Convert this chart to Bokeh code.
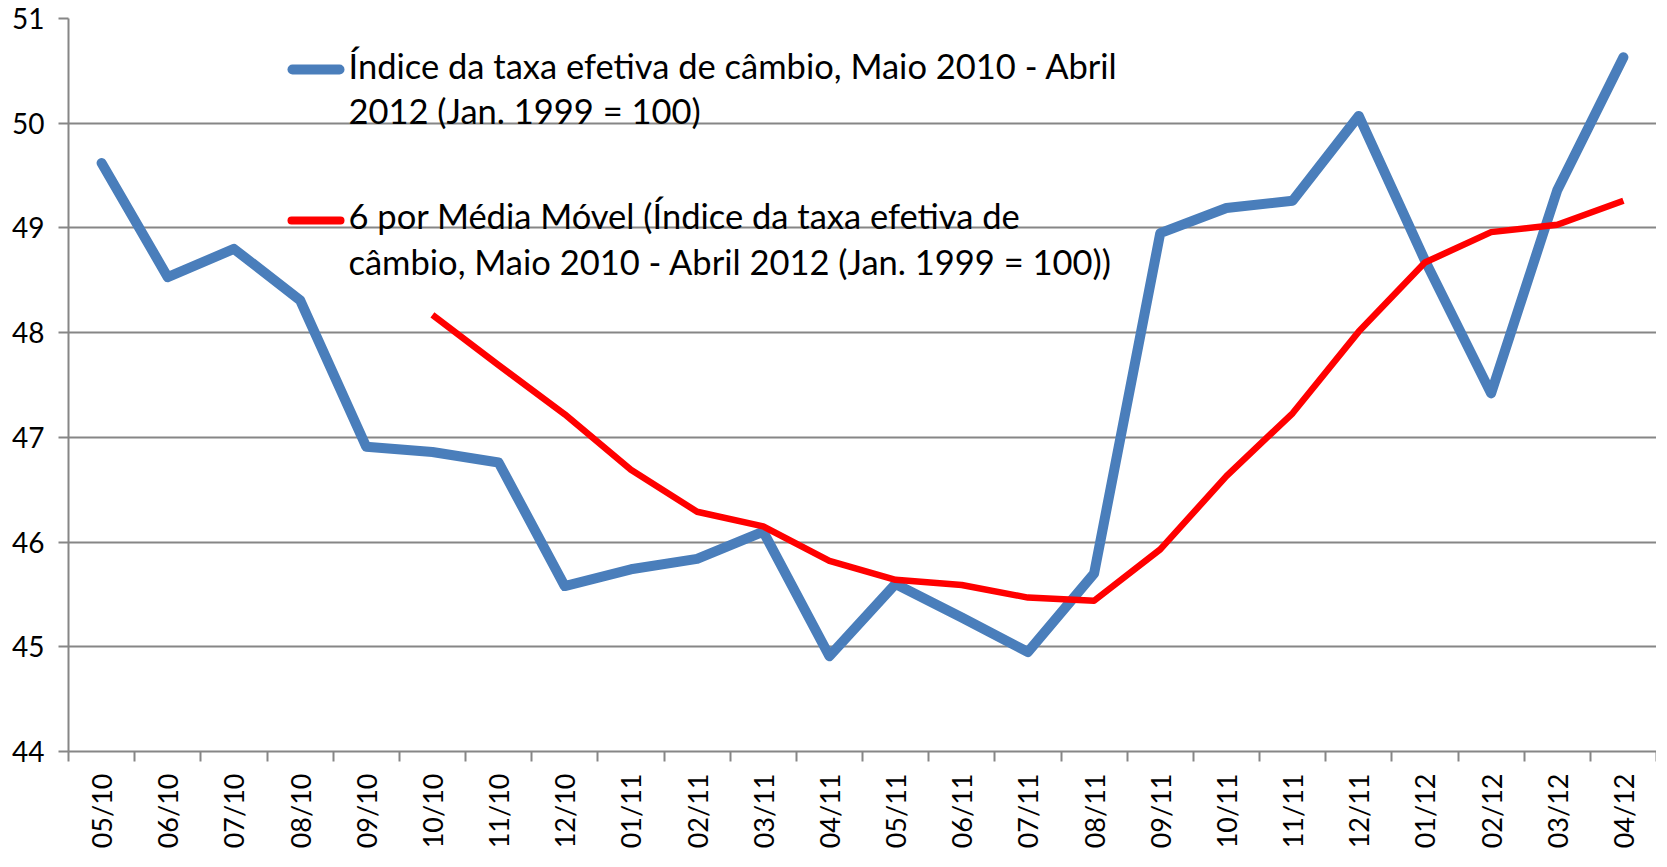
import numpy as np
from bokeh.plotting import figure
from bokeh.models import FixedTicker, ColumnDataSource, Label, BoxAnnotation
from bokeh.embed import file_html
from bokeh.resources import INLINE

months = ["05/10", "06/10", "07/10", "08/10", "09/10", "10/10", "11/10", "12/10",
          "01/11", "02/11", "03/11", "04/11", "05/11", "06/11", "07/11", "08/11",
          "09/11", "10/11", "11/11", "12/11", "01/12", "02/12", "03/12", "04/12"]
indice = [49.62, 48.53, 48.80, 48.31, 46.91, 46.86, 46.76, 45.58,
          45.74, 45.84, 46.10, 44.91, 45.60, 45.28, 44.95, 45.70,
          48.95, 49.19, 49.26, 50.07, 48.69, 47.42, 49.36, 50.63]
media_movel = [48.17, 47.69, 47.22, 46.69, 46.29, 46.15, 45.82, 45.64,
               45.59, 45.47, 45.44, 45.93, 46.63, 47.23, 48.01, 48.67,
               48.96, 49.03, 49.26]
y_ticks = [44, 45, 46, 47, 48, 49, 50, 51]

label1 = ["Índice da taxa efetiva de câmbio, Maio 2010 - Abril",
          "2012 (Jan. 1999 = 100)"]
label2 = ["6 por Média Móvel (Índice da taxa efetiva de",
          "câmbio, Maio 2010 - Abril 2012 (Jan. 1999 = 100))"]

FONT = "Lato"
GRAY = "#868686"
BLUE = "#4A7EBB"
RED = "#FF0000"

n = len(months)
xc = [i + 0.5 for i in range(n)]
xm = xc[n - len(media_movel):]

p = figure(width=1656, height=851, output_backend="svg", toolbar_location=None,
           x_range=(0, n), y_range=(44, 51),
           min_border_left=68, min_border_right=0, min_border_top=18, min_border_bottom=93)
p.outline_line_color = None
p.background_fill_color = "white"

src1 = ColumnDataSource(dict(x=xc, y=indice))
src2 = ColumnDataSource(dict(x=xm, y=media_movel))
r1 = p.line("x", "y", source=src1, line_color=BLUE, line_width=10,
            line_join="round", line_cap="round")
r2 = p.line("x", "y", source=src2, line_color=RED, line_width=6.5,
            line_join="round", line_cap="butt")

# x axis: labels at centers, tick marks at boundaries
p.xaxis.ticker = FixedTicker(ticks=xc, minor_ticks=list(range(n + 1)))
p.xaxis.major_label_overrides = {x: m for x, m in zip(xc, months)}
p.xaxis.major_tick_line_color = None
p.xaxis.minor_tick_in = 0
p.xaxis.minor_tick_out = 10
p.xaxis.minor_tick_line_color = GRAY
p.xaxis.minor_tick_line_width = 2
p.xaxis.axis_line_color = GRAY
p.xaxis.axis_line_width = 2
p.xaxis.major_label_orientation = np.pi / 2
p.xaxis.major_label_standoff = 12
p.xaxis.major_label_text_font = FONT
p.xaxis.major_label_text_font_size = "27px"
p.xaxis.major_label_text_color = "black"
p.xgrid.grid_line_color = None

p.yaxis.ticker = FixedTicker(ticks=y_ticks, minor_ticks=[])
p.yaxis.major_tick_in = 0
p.yaxis.major_tick_out = 10
p.yaxis.major_tick_line_color = GRAY
p.yaxis.major_tick_line_width = 2
p.yaxis.axis_line_color = GRAY
p.yaxis.axis_line_width = 2
p.yaxis.major_label_standoff = 14
p.yaxis.major_label_text_font = FONT
p.yaxis.major_label_text_font_size = "28px"
p.yaxis.major_label_text_color = "black"
p.ygrid.ticker = FixedTicker(ticks=y_ticks)
p.ygrid.grid_line_color = GRAY
p.ygrid.grid_line_width = 2

# legend (drawn in screen units)
def legend_entry(lines, color, thickness, y_glyph, y_base1, y_base2):
    p.add_layout(BoxAnnotation(left=219, right=276,
                               bottom=y_glyph - thickness // 2, top=y_glyph + thickness // 2,
                               left_units="screen", right_units="screen",
                               bottom_units="screen", top_units="screen",
                               fill_color=color, fill_alpha=1, line_color=None,
                               border_radius=thickness // 2))
    for txt, yb in zip(lines, (y_base1, y_base2)):
        p.add_layout(Label(x=280, y=yb, x_units="screen", y_units="screen", text=txt,
                           text_font=FONT, text_font_size="34.5px", text_color="black",
                           text_baseline="alphabetic", text_align="left"))

legend_entry(label1, BLUE, 10, 682, 686, 641)
legend_entry(label2, RED, 8, 531, 536, 490)

open("out.html", "w").write(file_html(p, INLINE))
